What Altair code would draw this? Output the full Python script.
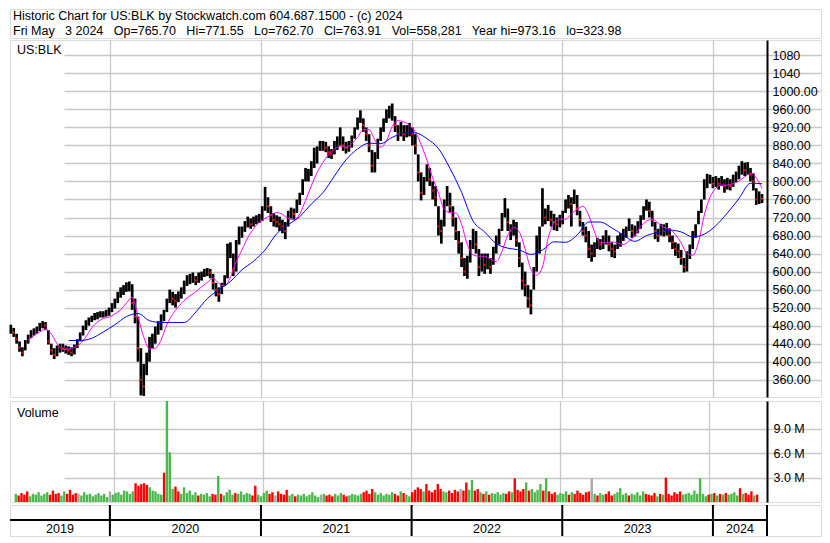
import altair as alt
import pandas as pd

# ---------------- data ----------------
START = "2019-05-06"  # first weekly bar

CLOSE = [
    472, 465, 450, 432, 420, 438, 452, 462, 466, 470,
    478, 482, 480, 445, 425, 415, 425, 432, 430, 428,
    425, 420, 428, 440, 455, 470, 482, 490, 495, 500,
    502, 505, 505, 508, 512, 520, 530, 545, 555, 560,
    568, 570, 530, 500, 430, 360, 345, 400, 440, 450,
    465, 480, 490, 505, 525, 545, 540, 535, 545, 555,
    565, 580, 585, 588, 580, 585, 592, 598, 600, 598,
    575, 560, 550, 565, 580, 640, 650, 605, 655, 685,
    690, 700, 710, 705, 712, 715, 720, 730, 765, 745,
    725, 715, 710, 705, 700, 690, 720, 730, 728, 745,
    760, 790, 815, 815, 830, 850, 860, 880, 880, 875,
    865, 860, 875, 885, 905, 880, 875, 878, 890, 910,
    930, 945, 925, 905, 880, 835, 845, 880, 910, 925,
    950, 955, 955, 925, 905, 915, 905, 910, 915, 905,
    880, 820, 775, 790, 820, 805, 780, 765, 700, 690,
    730, 770, 745, 720, 690, 665, 630, 600, 615, 650,
    670, 660, 610, 625, 615, 625, 610, 640, 665, 680,
    710, 750, 710, 690, 695, 670, 630, 580, 570, 540,
    525, 590, 650, 680, 740, 720, 735, 715, 710, 705,
    712, 720, 745, 755, 750, 765, 740, 715, 690, 680,
    650, 640, 650, 665, 660, 665, 675, 660, 650, 645,
    665, 670, 680, 690, 705, 690, 690, 700, 710, 730,
    750, 735, 715, 690, 680, 695, 690, 695, 680, 665,
    650, 645, 630, 610, 625, 645, 670, 690, 720, 745,
    790, 800, 805, 795, 800, 795, 800, 790, 795, 790,
    800, 810, 820, 830, 825, 830, 815, 800, 760, 765, 762,
]

HIGH = [
    482, 475, 462, 445, 432, 448, 460, 470, 474, 478,
    486, 490, 488, 470, 440, 430, 436, 440, 440, 436,
    434, 432, 438, 450, 465, 480, 492, 498, 502, 508,
    510, 512, 512, 515, 520, 530, 540, 555, 565, 570,
    576, 578, 572, 540, 500, 430, 395, 420, 455, 462,
    478, 490, 505, 515, 540, 560, 555, 550, 556, 565,
    580, 592, 595, 598, 590, 598, 600, 606, 608, 606,
    595, 575, 565, 575, 592, 662, 665, 640, 670, 700,
    700, 712, 722, 718, 722, 725, 728, 745, 788, 765,
    745, 730, 725, 722, 715, 710, 735, 742, 740, 760,
    775, 805, 830, 828, 845, 875, 878, 890, 890, 888,
    878, 872, 890, 900, 920, 900, 888, 890, 902, 920,
    942, 958, 940, 920, 905, 870, 865, 895, 920, 940,
    960, 968, 973, 945, 925, 932, 925, 925, 930, 920,
    905, 860, 820, 810, 838, 830, 800, 790, 745, 715,
    760, 790, 775, 745, 720, 690, 665, 630, 635, 670,
    695, 690, 650, 640, 640, 640, 630, 655, 680, 695,
    730, 763, 740, 705, 715, 710, 665, 620, 600, 570,
    560, 610, 680, 700, 785, 740, 748, 735, 728, 720,
    726, 735, 760, 770, 765, 782, 770, 735, 710, 700,
    690, 660, 665, 675, 672, 680, 692, 680, 665, 660,
    680, 685, 695, 700, 718, 705, 702, 712, 725, 745,
    760, 755, 735, 710, 695, 706, 705, 708, 696, 680,
    665, 662, 648, 630, 645, 660, 690, 705, 735, 760,
    805, 817, 815, 810, 812, 808, 812, 805, 808, 805,
    815, 822, 835, 845, 842, 843, 830, 818, 785, 778, 772,
]

LOW = [
    462, 455, 440, 422, 412, 425, 440, 452, 458, 462,
    468, 474, 470, 438, 415, 406, 412, 420, 422, 418,
    415, 412, 416, 430, 445, 458, 470, 480, 488, 492,
    494, 498, 498, 500, 502, 510, 518, 530, 542, 548,
    555, 556, 515, 485, 400, 325, 324, 370, 400, 430,
    440, 460, 470, 490, 510, 530, 525, 520, 532, 540,
    550, 568, 572, 575, 570, 575, 580, 588, 590, 585,
    560, 545, 533, 550, 568, 585, 630, 590, 600, 660,
    675, 688, 698, 695, 700, 705, 708, 712, 735, 730,
    710, 700, 698, 690, 685, 672, 700, 718, 715, 730,
    748, 770, 800, 800, 812, 830, 840, 868, 868, 865,
    852, 850, 860, 870, 880, 868, 862, 866, 875, 895,
    915, 930, 910, 890, 865, 820, 820, 850, 890, 910,
    930, 940, 935, 910, 890, 900, 890, 898, 900, 880,
    860, 800, 758, 770, 800, 790, 760, 745, 680, 662,
    700, 745, 730, 700, 670, 640, 610, 590, 584, 620,
    650, 640, 590, 600, 595, 605, 595, 615, 640, 660,
    690, 720, 690, 670, 680, 655, 610, 560, 545, 520,
    505, 560, 600, 640, 700, 705, 712, 700, 692, 690,
    698, 705, 730, 740, 700, 750, 725, 700, 680, 665,
    630, 622, 632, 650, 648, 650, 660, 645, 632, 630,
    650, 655, 668, 675, 690, 675, 678, 685, 695, 715,
    735, 720, 700, 672, 666, 680, 678, 680, 665, 650,
    635, 630, 615, 598, 600, 628, 650, 675, 705, 730,
    760, 785, 795, 785, 788, 782, 790, 775, 782, 780,
    788, 798, 805, 815, 812, 815, 800, 780, 748, 750, 752,
]

VOLUME_M = [
    1.0, 0.8, 1.1, 0.9, 1.3, 0.7, 1.0, 0.9, 1.2, 0.8,
    1.0, 1.2, 0.9, 1.4, 1.0, 1.1, 0.8, 1.3, 1.0, 1.5,
    0.9, 1.1, 1.0, 0.8, 1.2, 0.9, 1.0, 0.7, 0.9, 1.1,
    0.8, 1.0, 0.6, 1.3, 0.9, 1.1, 1.2, 0.9, 1.4, 1.3,
    1.0, 1.3, 2.3, 2.0, 2.2, 2.3, 2.1, 1.8, 1.4, 1.3,
    1.0, 0.9, 3.6, 13.0, 6.1, 1.6, 1.9, 1.3, 1.0, 1.8,
    1.1, 1.4, 0.9, 1.2, 0.8, 1.0, 0.9, 1.1, 0.7, 1.0,
    0.9, 3.2, 1.0, 0.8, 1.2, 1.5, 0.9, 1.1, 1.0, 1.3,
    0.9, 1.1, 1.0, 0.8, 2.0, 0.9, 0.7, 1.1, 1.4, 1.0,
    1.2, 0.8, 1.3, 1.0, 0.9, 1.5, 0.8, 1.0, 0.7, 0.9,
    0.8, 1.0, 0.7, 0.9, 1.2, 0.8, 0.6, 0.9, 1.0, 0.8,
    0.9, 0.7, 1.0, 0.8, 1.1, 0.9, 0.7, 0.8, 1.0, 0.9,
    0.8, 1.0, 1.2, 1.4, 1.0, 1.6, 1.2, 0.9, 1.1, 0.8,
    1.0, 0.9, 1.2, 1.0, 0.8, 1.3, 1.1, 0.9, 0.7, 1.2,
    1.5, 1.8, 1.6, 1.3, 2.2, 1.4, 1.2, 1.5, 2.2, 1.6,
    1.3, 1.2, 1.4, 1.1, 1.5, 1.3, 1.6, 1.4, 2.4, 1.5,
    2.7, 1.4, 1.6, 1.2, 1.0, 1.3, 0.9, 1.1, 1.0, 1.2,
    0.9, 1.1, 1.0, 1.3, 1.2, 2.9, 1.5, 1.3, 1.6, 2.4,
    1.4, 1.6, 1.2, 1.5, 2.2, 1.4, 2.9, 1.3, 1.0, 1.2,
    0.9, 1.1, 1.0, 1.3, 0.9, 1.2, 1.0, 1.4, 1.1, 0.9,
    1.2, 1.3, 2.9, 1.0, 0.8, 1.1, 0.9, 1.0, 1.3, 0.8,
    1.0, 1.2, 1.7, 0.9, 1.1, 0.8, 1.0, 0.9, 1.2, 0.8,
    1.3, 1.0, 0.9, 0.8, 1.1, 0.7, 1.0, 0.9, 3.0, 1.0,
    0.8, 1.2, 1.0, 1.3, 0.9, 1.0, 1.1, 0.9, 1.4, 1.0,
    2.9, 1.0, 0.7, 0.9, 1.0, 1.1, 0.8, 1.0, 0.9, 1.1,
    0.9, 1.0, 1.2, 0.8, 1.7, 1.0, 1.1, 0.9, 1.3, 0.8, 0.9,
]

# volume bar colour where it differs from the close-to-close direction
VOL_DIR_OVERRIDE = {52: "down", 71: "up", 84: "down", 144: "down", 158: "down",
                    179: "up", 202: "flat", 22: "flat", 33: "flat", 91: "flat",
                    107: "flat", 156: "flat"}

# magenta (short) moving average, every 2nd week from week 6
MA_FAST_START, MA_FAST_STEP = 6, 2
MA_FAST = [
    448, 458, 466, 472, 462, 440, 427, 428, 432, 440,
    455, 475, 488, 496, 499, 506, 515, 530, 543, 500,
    455, 428, 430, 448, 482, 505, 522, 536, 546, 555,
    566, 576, 585, 574, 568, 588, 622, 648, 675, 695,
    710, 718, 725, 731, 727, 718, 715, 728, 758, 790,
    820, 842, 860, 872, 878, 876, 884, 898, 915, 915,
    892, 876, 890, 922, 935, 932, 925, 910, 882, 848,
    808, 775, 738, 731, 730, 705, 660, 637, 634, 634,
    628, 622, 645, 681, 698, 688, 650, 605, 592, 610,
    675, 708, 716, 716, 728, 738, 745, 725, 688, 664,
    664, 666, 663, 660, 668, 680, 700, 712, 716, 708,
    698, 695, 682, 664, 640, 636, 665, 725, 765, 785,
    792, 792, 795, 801, 810, 818, 808, 785,
]

# blue (long) moving average, every 4th week from week 20
MA_SLOW_START, MA_SLOW_STEP = 20, 4
MA_SLOW = [
    447, 447, 452, 466, 482, 500, 507, 491, 487, 487,
    487, 510, 540, 560, 578, 604, 623, 648, 684, 704,
    722, 750, 775, 812, 848, 872, 885, 884, 898, 907,
    908, 895, 873, 829, 776, 712, 688, 662, 652, 648,
    638, 648, 666, 665, 681, 710, 710, 697, 681, 667,
    680, 687, 692, 688, 677, 683, 702, 730, 762, 796,
    795,
]

PRICE_TICKS = list(range(360, 1081, 40))
VOLUME_TICKS = [3_000_000, 6_000_000, 9_000_000]
YEARS = [2019, 2020, 2021, 2022, 2023, 2024]

TITLE_1 = "Historic Chart for US:BLK by Stockwatch.com 604.687.1500 - (c) 2024"
TITLE_2 = ("Fri May\u00a0\u00a0 3 2024\u00a0\u00a0 Op=765.70\u00a0\u00a0 Hi=771.55\u00a0\u00a0 "
           "Lo=762.70\u00a0\u00a0 Cl=763.91\u00a0\u00a0 Vol=558,281\u00a0\u00a0 "
           "Year hi=973.16\u00a0\u00a0 lo=323.98")
SYMBOL = "US:BLK"
VOLUME_LABEL = "Volume"

X_START = pd.Timestamp("2019-05-04")
X_END = pd.Timestamp("2024-05-11")

# ---------------- tables ----------------
n = len(CLOSE)
dates = pd.date_range(START, periods=n, freq="7D")
down = [i > 0 and c < CLOSE[i - 1] for i, c in enumerate(CLOSE)]
price = pd.DataFrame({"date": dates, "close": CLOSE, "high": HIGH, "low": LOW, "down": down})

dirs = []
for i, c in enumerate(CLOSE):
    if i in VOL_DIR_OVERRIDE:
        dirs.append(VOL_DIR_OVERRIDE[i])
    elif i == 0 or c >= CLOSE[i - 1]:
        dirs.append("up")
    else:
        dirs.append("down")
vol = pd.DataFrame({"date": dates, "volume": [v * 1e6 for v in VOLUME_M], "dir": dirs})

fast = pd.DataFrame({"date": [dates[MA_FAST_START + MA_FAST_STEP * k] for k in range(len(MA_FAST))],
                     "ma": MA_FAST})
slow = pd.DataFrame({"date": [dates[MA_SLOW_START + MA_SLOW_STEP * k] for k in range(len(MA_SLOW))],
                     "ma": MA_SLOW})

bounds = [X_START] + [pd.Timestamp(f"{y}-01-01") for y in YEARS[1:]] + [X_END]
years_df = pd.DataFrame({
    "year": [str(y) for y in YEARS],
    "mid": [bounds[k] + (bounds[k + 1] - bounds[k]) / 2 for k in range(len(YEARS))],
})
year_starts = pd.DataFrame({"date": [pd.Timestamp(f"{y}-01-01") for y in YEARS[1:]]})

# ---------------- layout ----------------
FONT = "Liberation Sans"
W = 811          # full panel width (incl. label column)
PW = 757         # plot area width
H_TITLE = 29
H_PRICE = 357
H_VOL = 101
H_BAND = 31
GRID = "#c8c8c8"

x_dom = [alt.DateTime(year=2019, month=5, date=4), alt.DateTime(year=2024, month=5, date=11)]
year_vals = [alt.DateTime(year=y, month=1, date=1) for y in YEARS[1:]]
xscale = alt.Scale(domain=x_dom, range=[0, PW])
xaxis_grid = alt.Axis(title=None, labels=False, ticks=False, domain=False, grid=True,
                      values=year_vals, gridColor=GRID, gridWidth=1.3)

def X():
    return alt.X("date:T", scale=xscale, axis=xaxis_grid)

price_axis = alt.Axis(
    title=None, orient="right", offset=PW - W, values=PRICE_TICKS,
    labelExpr="datum.value >= 1040 ? format(datum.value, 'd') : format(datum.value, '.2f')",
    ticks=False, domain=True, domainColor="black", domainWidth=2,
    grid=True, gridColor=GRID, gridWidth=1.3,
    labelFont=FONT, labelFontSize=12.5, labelColor="black", labelPadding=5,
    labelOverlap=False, labelFlush=False,
)
price_scale = alt.Scale(domain=[321.6, 1114], nice=False, zero=False)

def PY(field):
    return alt.Y(f"{field}:Q", scale=price_scale, axis=price_axis)

bars = alt.Chart(price).mark_rule(color="black", strokeWidth=2.7).encode(
    x=X(), y=PY("low"), y2="high:Q")
close_dots = alt.Chart(price).transform_filter("datum.down").mark_square(
    color="#ff0000", size=4, opacity=1).encode(x=X(), y=PY("close"))
fast_line = alt.Chart(fast).mark_line(color="#ff00ff", strokeWidth=1, interpolate="monotone").encode(
    x=X(), y=PY("ma"))
slow_line = alt.Chart(slow).mark_line(color="#0000ff", strokeWidth=1, interpolate="monotone").encode(
    x=X(), y=PY("ma"))
sym = alt.Chart(pd.DataFrame({"t": [SYMBOL]})).mark_text(
    align="left", baseline="alphabetic", font=FONT, fontSize=12.5, color="black").encode(
    x=alt.value(7), y=alt.value(14), text="t:N")

price_chart = alt.layer(bars, close_dots, fast_line, slow_line, sym).properties(
    width=W, height=H_PRICE)

vol_axis = alt.Axis(
    title=None, orient="right", offset=PW - W, values=VOLUME_TICKS,
    labelExpr="format(datum.value / 1000000, '.1f') + ' M'",
    ticks=False, domain=True, domainColor="black", domainWidth=2,
    grid=True, gridColor=GRID, gridWidth=1.3,
    labelFont=FONT, labelFontSize=12.5, labelColor="black", labelPadding=6,
    labelOverlap=False, labelFlush=False,
)
vol_bars = alt.Chart(vol).mark_bar(width=2.4, clip=True).encode(
    x=X(),
    y=alt.Y("volume:Q", scale=alt.Scale(domain=[0, 12.4e6], nice=False), axis=vol_axis),
    color=alt.Color("dir:N", scale=alt.Scale(domain=["up", "down", "flat"],
                                             range=["#4cb84c", "#ff0000", "#a8a8a8"]), legend=None),
)
vol_text = alt.Chart(pd.DataFrame({"t": [VOLUME_LABEL]})).mark_text(
    align="left", baseline="alphabetic", font=FONT, fontSize=12.5, color="black").encode(
    x=alt.value(7), y=alt.value(16), text="t:N")
vol_chart = alt.layer(vol_bars, vol_text).properties(width=W, height=H_VOL)

# year band
one = pd.DataFrame({"k": [0]})
sep_rules = alt.Chart(year_starts).mark_rule(color="black", strokeWidth=2).encode(
    x=alt.X("date:T", scale=xscale, axis=None), y=alt.value(0), y2=alt.value(H_BAND))
mid_rule = alt.Chart(one).mark_rule(color="black", strokeWidth=2).encode(
    x=alt.value(0), x2=alt.value(PW), y=alt.value(15))
edge_rule = alt.Chart(one).mark_rule(color="black", strokeWidth=2).encode(
    x=alt.value(PW), y=alt.value(0), y2=alt.value(H_BAND))
year_text = alt.Chart(years_df).mark_text(
    align="center", baseline="alphabetic", font=FONT, fontSize=12.5, color="black").encode(
    x=alt.X("mid:T", scale=xscale, axis=None), y=alt.value(28), text="year:N")
band_chart = alt.layer(sep_rules, mid_rule, edge_rule, year_text).properties(width=W, height=H_BAND)

# title block
t1 = alt.Chart(pd.DataFrame({"t": [TITLE_1]})).mark_text(
    align="left", baseline="alphabetic", font=FONT, fontSize=12.5, color="black").encode(
    x=alt.value(3), y=alt.value(11), text="t:N")
t2 = alt.Chart(pd.DataFrame({"t": [TITLE_2]})).mark_text(
    align="left", baseline="alphabetic", font=FONT, fontSize=12.5, color="black").encode(
    x=alt.value(3), y=alt.value(26), text="t:N")
title_chart = alt.layer(t1, t2).properties(width=W, height=H_TITLE)

chart = alt.vconcat(
    title_chart,
    alt.vconcat(price_chart, vol_chart, spacing=2),
    band_chart,
    spacing=0,
).properties(padding=0, background="white").configure_view(
    stroke="black", strokeWidth=1.5
).configure(font=FONT)

chart.save("out.html", embed_options={"renderer": "svg", "actions": False})
